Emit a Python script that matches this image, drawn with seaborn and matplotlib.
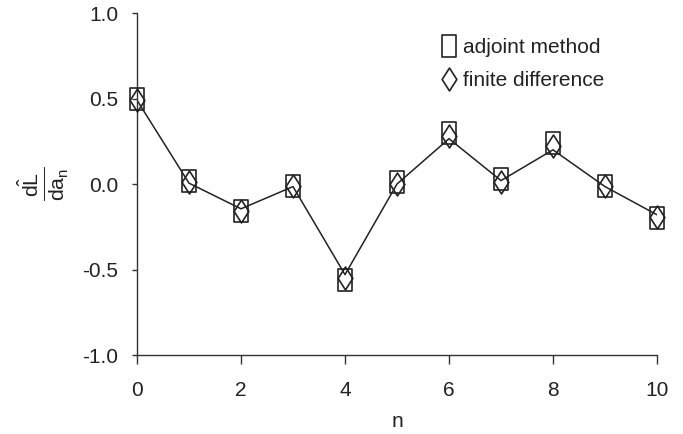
import numpy as np
import pandas as pd
import matplotlib
matplotlib.use("Agg")
import matplotlib.pyplot as plt
from matplotlib.path import Path
from matplotlib.lines import Line2D
import seaborn as sns

n_vals = [0, 1, 2, 3, 4, 5, 6, 7, 8, 9, 10]
adjoint = [0.50, 0.02, -0.16, -0.01, -0.56, 0.01, 0.30, 0.03, 0.24, -0.01, -0.20]
finite_diff = [0.49, 0.01, -0.155, -0.01, -0.55, 0.00, 0.28, 0.01, 0.22, -0.01, -0.19]
line_vals = [0.49, 0.005, -0.145, -0.015, -0.53, 0.00, 0.265, 0.02, 0.20, -0.015, -0.18]
x_ticks = [0, 2, 4, 6, 8, 10]
y_ticks = [-1.0, -0.5, 0.0, 0.5, 1.0]

sns.set_theme(style="ticks")
plt.rcParams["font.family"] = ["Liberation Sans", "DejaVu Sans"]
plt.rcParams["mathtext.fontset"] = "custom"
plt.rcParams["mathtext.rm"] = "Liberation Sans"
plt.rcParams["mathtext.it"] = "Liberation Sans"
plt.rcParams["mathtext.bf"] = "Liberation Sans"

df = pd.DataFrame({"n": n_vals, "adjoint": adjoint, "fd": finite_diff, "line": line_vals})

fig = plt.figure(figsize=(6.83, 4.34), dpi=100)
ax = fig.add_axes([0.2006, 0.182, 0.7613, 0.788])

ink = "#222222"
rect = Path([(-0.32, -0.5), (0.32, -0.5), (0.32, 0.5), (-0.32, 0.5), (-0.32, -0.5)],
            [Path.MOVETO, Path.LINETO, Path.LINETO, Path.LINETO, Path.CLOSEPOLY])
diam = Path([(0, -0.5), (0.32, 0), (0, 0.5), (-0.32, 0), (0, -0.5)],
            [Path.MOVETO, Path.LINETO, Path.LINETO, Path.LINETO, Path.CLOSEPOLY])

mk = dict(markersize=16.5, markerfacecolor="none", markeredgecolor=ink, markeredgewidth=1.2)

sns.lineplot(data=df, x="n", y="line", ax=ax, color=ink, lw=1.1, estimator=None)
sns.lineplot(data=df, x="n", y="adjoint", ax=ax, color=ink, linestyle="", marker=rect,
             estimator=None, clip_on=False, zorder=5, **mk)
sns.lineplot(data=df, x="n", y="fd", ax=ax, color=ink, linestyle="", marker=diam,
             estimator=None, clip_on=False, zorder=5, **mk)

ax.set_xlim(0, 10)
ax.set_ylim(-1.0, 1.0)
ax.set_xticks(x_ticks)
ax.set_xticklabels([str(t) for t in x_ticks])
ax.set_yticks(y_ticks)
ax.set_yticklabels([f"{t:.1f}" for t in y_ticks])
for s in ["top", "right"]:
    ax.spines[s].set_visible(False)
for s in ["left", "bottom"]:
    ax.spines[s].set_color("#333333")
    ax.spines[s].set_linewidth(1.0)
ax.tick_params(axis="both", direction="out", width=1.0, colors="#333333",
               labelsize=15, labelcolor="#222222")
ax.tick_params(axis="x", length=6.5, pad=12.3)
ax.tick_params(axis="y", length=3.6, pad=10)
ax.set_xlabel("n", fontsize=15, color="#222222", labelpad=8.5)
ax.set_ylabel(r"$\frac{\hat{dL}}{da_n}$", fontsize=22, color="#222222", labelpad=8)

handles = [
    Line2D([], [], linestyle="", marker=rect, **mk),
    Line2D([], [], linestyle="", marker=diam, **mk),
]
leg = ax.legend(handles, ["adjoint method", "finite difference"], loc="upper left",
                bbox_to_anchor=(0.549, 0.982), frameon=False, fontsize=15,
                handlelength=0.7, handletextpad=0.35, labelspacing=0.68)
for t in leg.get_texts():
    t.set_color("#222222")

fig.savefig("out.png", dpi=100)
